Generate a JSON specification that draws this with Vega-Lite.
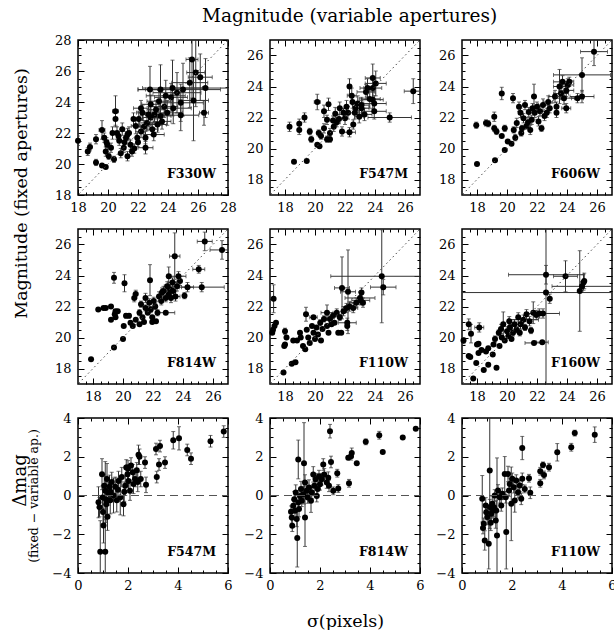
{
"$schema":"https://vega.github.io/schema/vega-lite/v6.json",
"padding":{"left":10,"top":6,"right":0,"bottom":0},
"title":{"text":"Magnitude (variable apertures)","font":"DejaVu Serif","fontSize":18.5,"fontWeight":"normal","color":"black","anchor":"middle","offset":8,"dx":36},
"config":{
 "view":{"stroke":"black","strokeWidth":1.5},
 "axis":{"domain":false,"grid":false,"labelFont":"DejaVu Serif","labelFontSize":13,"labelColor":"black","tickColor":"black","tickWidth":1,"labelFlush":false,"labelOverlap":false,"titleFont":"DejaVu Serif","titleFontWeight":"normal","titleColor":"black","titleFontSize":17.5,"format":"d"},
 "axisX":{"labelPadding":12},
 "axisY":{"labelPadding":13}
},
"datasets":{
"diag":[{"x":16,"y":16},{"x":29,"y":29}],
"zl":[{"x":-1,"y":0},{"x":7,"y":0}],
"pts":[
{"p":"F330W","x":18.0,"y":21.5,"ey":0.3},
{"p":"F330W","x":18.65,"y":20.8,"ey":0.25},
{"p":"F330W","x":18.8,"y":21.1,"ey":0.25},
{"p":"F330W","x":19.2,"y":21.6,"ey":0.3},
{"p":"F330W","x":19.2,"y":20.1,"ey":0.2},
{"p":"F330W","x":19.6,"y":19.9},
{"p":"F330W","x":19.85,"y":19.8},
{"p":"F330W","x":19.6,"y":22.2,"ey":0.6,"ex":0.2},
{"p":"F330W","x":19.75,"y":21.7,"ey":0.3},
{"p":"F330W","x":19.95,"y":21.25,"ey":0.3},
{"p":"F330W","x":19.85,"y":20.8,"ey":0.3},
{"p":"F330W","x":20.05,"y":20.5,"ey":0.2},
{"p":"F330W","x":20.2,"y":21.05,"ey":0.3},
{"p":"F330W","x":20.4,"y":20.3,"ey":0.2},
{"p":"F330W","x":20.5,"y":23.4,"ey":1.0,"ex":0.2},
{"p":"F330W","x":20.5,"y":22.9,"ey":0.4},
{"p":"F330W","x":20.6,"y":22.0,"ey":0.4},
{"p":"F330W","x":20.75,"y":21.5,"ey":0.3},
{"p":"F330W","x":20.85,"y":20.7,"ey":0.3},
{"p":"F330W","x":20.95,"y":22.25,"ey":0.4},
{"p":"F330W","x":21.05,"y":21.05,"ey":0.3},
{"p":"F330W","x":21.2,"y":21.7,"ey":0.4},
{"p":"F330W","x":21.3,"y":20.5,"ey":0.3},
{"p":"F330W","x":21.4,"y":22.0,"ey":0.4},
{"p":"F330W","x":21.5,"y":21.25,"ey":0.3},
{"p":"F330W","x":21.6,"y":20.8,"ey":0.3},
{"p":"F330W","x":21.85,"y":22.45,"ey":0.5,"ex":0.3},
{"p":"F330W","x":21.95,"y":21.7,"ey":0.4},
{"p":"F330W","x":22.05,"y":22.9,"ey":0.5,"ex":0.3},
{"p":"F330W","x":22.2,"y":22.1,"ey":0.4},
{"p":"F330W","x":22.3,"y":23.3,"ey":0.5,"ex":0.4},
{"p":"F330W","x":22.5,"y":21.7,"ey":0.4},
{"p":"F330W","x":22.5,"y":21.05,"ey":0.4,"ex":0.5},
{"p":"F330W","x":22.6,"y":22.65,"ey":0.5,"ex":0.5},
{"p":"F330W","x":22.85,"y":23.85,"ey":0.6,"ex":0.6},
{"p":"F330W","x":22.85,"y":23.0,"ey":0.5,"ex":0.5},
{"p":"F330W","x":22.95,"y":22.25,"ey":0.4,"ex":0.4},
{"p":"F330W","x":23.05,"y":21.9,"ey":0.4,"ex":0.7},
{"p":"F330W","x":23.2,"y":23.5,"ey":0.6,"ex":0.6},
{"p":"F330W","x":23.3,"y":22.55,"ey":0.5,"ex":0.6},
{"p":"F330W","x":23.4,"y":24.05,"ey":0.7,"ex":0.8},
{"p":"F330W","x":23.5,"y":23.1,"ey":0.6,"ex":0.7},
{"p":"F330W","x":23.6,"y":22.75,"ey":0.5,"ex":0.6},
{"p":"F330W","x":23.75,"y":23.7,"ey":0.7,"ex":0.9},
{"p":"F330W","x":23.95,"y":23.3,"ey":0.8,"ex":1.0},
{"p":"F330W","x":24.2,"y":24.3,"ey":0.9,"ex":1.1},
{"p":"F330W","x":22.8,"y":24.8,"ey":1.5,"ex":0.8},
{"p":"F330W","x":23.5,"y":24.8,"ey":1.6,"ex":1.5},
{"p":"F330W","x":24.3,"y":24.9,"ey":1.8,"ex":2.0},
{"p":"F330W","x":25.0,"y":24.8,"ey":1.7,"ex":2.5},
{"p":"F330W","x":26.5,"y":24.9,"ey":1.9,"ex":3.0},
{"p":"F330W","x":24.35,"y":23.6,"ey":1.0,"ex":1.2},
{"p":"F330W","x":24.85,"y":23.95,"ey":1.2,"ex":1.5},
{"p":"F330W","x":24.85,"y":23.15,"ey":1.0,"ex":1.2},
{"p":"F330W","x":25.6,"y":26.75,"ey":2.5,"ex":0.4},
{"p":"F330W","x":25.85,"y":25.9,"ey":2.2,"ex":0.6},
{"p":"F330W","x":26.15,"y":25.6,"ey":1.5,"ex":0.8},
{"p":"F330W","x":26.4,"y":23.3,"ey":0.8,"ex":0.3},
{"p":"F330W","x":25.45,"y":25.25,"ey":1.6,"ex":1.2},
{"p":"F330W","x":25.7,"y":24.1,"ey":2.6,"ex":1.0},
{"p":"F330W","x":24.6,"y":24.6,"ey":1.3,"ex":1.6},
{"p":"F330W","x":23.85,"y":24.4,"ey":1.0,"ex":1.3},
{"p":"F330W","x":22.7,"y":23.2,"ey":0.5},
{"p":"F330W","x":21.7,"y":22.9,"ey":0.4},
{"p":"F330W","x":22.0,"y":21.4,"ey":0.3},
{"p":"F330W","x":21.1,"y":21.4,"ey":0.3},
{"p":"F330W","x":20.7,"y":21.8,"ey":0.3},
{"p":"F330W","x":20.3,"y":22.0,"ey":0.4},
{"p":"F330W","x":19.9,"y":21.4,"ey":0.3},
{"p":"F330W","x":21.3,"y":21.9,"ey":0.4},
{"p":"F330W","x":21.75,"y":21.0,"ey":0.3},
{"p":"F330W","x":22.4,"y":22.4,"ey":0.4,"ex":0.4},
{"p":"F330W","x":23.1,"y":23.2,"ey":0.5,"ex":0.6},
{"p":"F330W","x":22.2,"y":23.6,"ey":0.5,"ex":0.5},
{"p":"F547M","x":18.3,"y":21.4,"ey":0.3},
{"p":"F547M","x":18.6,"y":19.15},
{"p":"F547M","x":18.95,"y":21.6,"ey":0.3},
{"p":"F547M","x":18.95,"y":21.2,"ey":0.3},
{"p":"F547M","x":19.3,"y":22.0,"ey":0.3},
{"p":"F547M","x":19.45,"y":19.2},
{"p":"F547M","x":19.65,"y":21.1,"ey":0.2},
{"p":"F547M","x":19.75,"y":20.6,"ey":0.2},
{"p":"F547M","x":20.15,"y":23.0,"ey":0.5,"ex":0.2},
{"p":"F547M","x":20.15,"y":20.25},
{"p":"F547M","x":20.3,"y":20.15},
{"p":"F547M","x":20.25,"y":21.0,"ey":0.2},
{"p":"F547M","x":20.6,"y":22.4,"ey":0.4},
{"p":"F547M","x":20.9,"y":22.85,"ey":0.4},
{"p":"F547M","x":20.8,"y":21.85,"ey":0.3},
{"p":"F547M","x":20.8,"y":20.6,"ey":0.2},
{"p":"F547M","x":21.0,"y":21.0,"ey":0.3},
{"p":"F547M","x":21.25,"y":21.4,"ey":0.3},
{"p":"F547M","x":21.35,"y":22.25,"ey":0.4},
{"p":"F547M","x":21.45,"y":21.7,"ey":0.3},
{"p":"F547M","x":21.65,"y":22.6,"ey":0.4},
{"p":"F547M","x":21.8,"y":21.1,"ey":0.3},
{"p":"F547M","x":22.0,"y":21.95,"ey":0.4},
{"p":"F547M","x":22.1,"y":22.7,"ey":0.4},
{"p":"F547M","x":22.3,"y":21.05,"ey":0.3,"ex":0.4},
{"p":"F547M","x":22.45,"y":23.4,"ey":0.5,"ex":0.3},
{"p":"F547M","x":22.55,"y":21.55,"ey":0.3},
{"p":"F547M","x":22.65,"y":22.3,"ey":0.4,"ex":0.3},
{"p":"F547M","x":22.85,"y":22.9,"ey":0.5,"ex":0.4},
{"p":"F547M","x":22.95,"y":22.05,"ey":0.4,"ex":0.3},
{"p":"F547M","x":23.1,"y":22.6,"ey":0.5,"ex":0.5},
{"p":"F547M","x":23.4,"y":23.65,"ey":0.5,"ex":0.6},
{"p":"F547M","x":23.65,"y":23.2,"ey":0.6,"ex":0.7},
{"p":"F547M","x":23.85,"y":23.9,"ey":0.7,"ex":0.6},
{"p":"F547M","x":23.85,"y":23.15,"ey":0.6,"ex":0.7},
{"p":"F547M","x":23.95,"y":22.9,"ey":0.5,"ex":0.8},
{"p":"F547M","x":23.95,"y":22.4,"ey":0.5,"ex":0.8},
{"p":"F547M","x":24.05,"y":24.2,"ey":0.8,"ex":0.7},
{"p":"F547M","x":23.85,"y":24.55,"ey":0.9,"ex":0.5},
{"p":"F547M","x":24.98,"y":22.0,"ey":0.3,"ex":1.45},
{"p":"F547M","x":26.55,"y":23.7,"ey":0.8,"ex":0.6},
{"p":"F547M","x":23.1,"y":22.8,"ey":0.5,"ex":0.5},
{"p":"F547M","x":22.3,"y":24.0,"ey":0.5},
{"p":"F547M","x":21.2,"y":21.8,"ey":0.3},
{"p":"F547M","x":21.6,"y":21.9,"ey":0.3},
{"p":"F547M","x":22.2,"y":22.3,"ey":0.4},
{"p":"F547M","x":22.7,"y":22.6,"ey":0.4},
{"p":"F547M","x":21.9,"y":22.3,"ey":0.3},
{"p":"F547M","x":23.3,"y":22.2,"ey":0.4,"ex":0.5},
{"p":"F547M","x":20.4,"y":20.8,"ey":0.2},
{"p":"F547M","x":20.6,"y":21.3,"ey":0.3},
{"p":"F547M","x":21.0,"y":20.6,"ey":0.2},
{"p":"F547M","x":22.5,"y":23.0,"ey":0.4},
{"p":"F547M","x":23.5,"y":23.9,"ey":0.6,"ex":0.5},
{"p":"F606W","x":17.95,"y":21.5,"ey":0.2},
{"p":"F606W","x":18.0,"y":19.0},
{"p":"F606W","x":18.6,"y":21.65,"ey":0.2},
{"p":"F606W","x":18.75,"y":21.6,"ey":0.2},
{"p":"F606W","x":19.15,"y":22.05,"ey":0.3},
{"p":"F606W","x":19.15,"y":21.3,"ey":0.2},
{"p":"F606W","x":19.3,"y":21.1,"ey":0.2},
{"p":"F606W","x":19.2,"y":19.25},
{"p":"F606W","x":19.65,"y":23.55,"ey":0.4},
{"p":"F606W","x":19.65,"y":20.8},
{"p":"F606W","x":19.85,"y":21.3,"ey":0.2},
{"p":"F606W","x":19.85,"y":19.9},
{"p":"F606W","x":20.05,"y":20.45},
{"p":"F606W","x":20.3,"y":20.3},
{"p":"F606W","x":20.4,"y":23.25,"ey":0.3},
{"p":"F606W","x":20.45,"y":21.2,"ey":0.2},
{"p":"F606W","x":20.55,"y":20.7,"ey":0.2},
{"p":"F606W","x":20.65,"y":21.65,"ey":0.3},
{"p":"F606W","x":20.8,"y":22.7,"ey":0.3},
{"p":"F606W","x":20.9,"y":22.3,"ey":0.3},
{"p":"F606W","x":20.95,"y":21.0,"ey":0.2},
{"p":"F606W","x":21.1,"y":21.95,"ey":0.3},
{"p":"F606W","x":21.2,"y":22.8,"ey":0.3},
{"p":"F606W","x":21.3,"y":21.45,"ey":0.2},
{"p":"F606W","x":21.45,"y":22.35,"ey":0.3},
{"p":"F606W","x":21.55,"y":21.2,"ey":0.3},
{"p":"F606W","x":21.65,"y":21.85,"ey":0.3},
{"p":"F606W","x":21.8,"y":23.35,"ey":0.8},
{"p":"F606W","x":21.85,"y":22.3,"ey":0.3},
{"p":"F606W","x":22.0,"y":22.7,"ey":0.3},
{"p":"F606W","x":22.1,"y":21.75,"ey":0.3},
{"p":"F606W","x":22.2,"y":22.4,"ey":0.3},
{"p":"F606W","x":22.4,"y":22.8,"ey":0.4,"ex":0.3},
{"p":"F606W","x":22.65,"y":22.3,"ey":0.3},
{"p":"F606W","x":22.75,"y":23.0,"ey":0.4,"ex":0.3},
{"p":"F606W","x":22.85,"y":22.6,"ey":0.3},
{"p":"F606W","x":23.2,"y":23.35,"ey":0.4,"ex":0.4},
{"p":"F606W","x":23.3,"y":22.7,"ey":0.3},
{"p":"F606W","x":23.5,"y":24.0,"ey":1.1,"ex":0.4},
{"p":"F606W","x":23.6,"y":23.55,"ey":0.4,"ex":0.5},
{"p":"F606W","x":23.7,"y":24.3,"ey":0.4,"ex":0.6},
{"p":"F606W","x":23.8,"y":23.25,"ey":0.4,"ex":0.7},
{"p":"F606W","x":23.95,"y":23.75,"ey":0.4,"ex":0.5},
{"p":"F606W","x":24.05,"y":24.1,"ey":0.4,"ex":0.4},
{"p":"F606W","x":23.3,"y":22.3,"ey":0.3},
{"p":"F606W","x":23.95,"y":22.6,"ey":0.3,"ex":0.3},
{"p":"F606W","x":25.0,"y":24.75,"ey":1.1,"ex":1.9},
{"p":"F606W","x":25.0,"y":23.35,"ey":0.4,"ex":0.8},
{"p":"F606W","x":24.7,"y":23.25,"ey":0.3,"ex":0.4},
{"p":"F606W","x":25.8,"y":26.25,"ey":0.9,"ex":0.9},
{"p":"F606W","x":24.15,"y":24.3,"ey":0.3,"ex":0.3},
{"p":"F606W","x":22.5,"y":22.1,"ey":0.3},
{"p":"F606W","x":21.7,"y":22.6,"ey":0.3},
{"p":"F606W","x":21.4,"y":21.7,"ey":0.3},
{"p":"F606W","x":22.3,"y":21.3,"ey":0.2},
{"p":"F606W","x":21.0,"y":21.3,"ey":0.2},
{"p":"F814W","x":17.87,"y":18.6},
{"p":"F814W","x":18.35,"y":21.8},
{"p":"F814W","x":18.7,"y":21.9},
{"p":"F814W","x":18.85,"y":21.9},
{"p":"F814W","x":19.2,"y":22.0},
{"p":"F814W","x":19.2,"y":21.15},
{"p":"F814W","x":19.4,"y":23.85,"ey":0.35},
{"p":"F814W","x":19.4,"y":19.35},
{"p":"F814W","x":19.5,"y":21.7},
{"p":"F814W","x":19.45,"y":21.5},
{"p":"F814W","x":19.65,"y":21.7},
{"p":"F814W","x":19.5,"y":21.3},
{"p":"F814W","x":20.1,"y":23.5,"ey":0.55},
{"p":"F814W","x":20.0,"y":19.9},
{"p":"F814W","x":20.05,"y":20.75},
{"p":"F814W","x":20.2,"y":21.4,"ey":0.15},
{"p":"F814W","x":20.4,"y":21.4,"ey":0.15},
{"p":"F814W","x":20.5,"y":20.95},
{"p":"F814W","x":20.65,"y":20.75},
{"p":"F814W","x":20.75,"y":22.55,"ey":0.25},
{"p":"F814W","x":20.85,"y":22.8,"ey":0.25},
{"p":"F814W","x":20.85,"y":21.15},
{"p":"F814W","x":21.1,"y":20.85},
{"p":"F814W","x":21.1,"y":21.6,"ey":0.2},
{"p":"F814W","x":21.2,"y":22.15,"ey":0.2},
{"p":"F814W","x":21.3,"y":21.3},
{"p":"F814W","x":21.5,"y":22.55,"ey":0.3},
{"p":"F814W","x":21.5,"y":21.9,"ey":0.2},
{"p":"F814W","x":21.65,"y":21.6},
{"p":"F814W","x":21.75,"y":22.25,"ey":0.25},
{"p":"F814W","x":21.8,"y":23.7,"ey":1.0},
{"p":"F814W","x":21.85,"y":21.8,"ey":0.2},
{"p":"F814W","x":21.95,"y":21.3},
{"p":"F814W","x":21.95,"y":21.0},
{"p":"F814W","x":22.05,"y":22.35,"ey":0.25},
{"p":"F814W","x":22.15,"y":22.0,"ey":0.2},
{"p":"F814W","x":22.3,"y":21.6,"ey":0.2},
{"p":"F814W","x":22.4,"y":22.65,"ey":0.3},
{"p":"F814W","x":22.55,"y":22.35,"ey":0.25},
{"p":"F814W","x":22.7,"y":23.0,"ey":0.3,"ex":0.2},
{"p":"F814W","x":22.85,"y":22.55,"ey":0.25},
{"p":"F814W","x":22.85,"y":21.6,"ex":0.6},
{"p":"F814W","x":22.95,"y":23.3,"ey":0.3,"ex":0.2},
{"p":"F814W","x":23.05,"y":22.8,"ey":0.3},
{"p":"F814W","x":23.15,"y":23.1,"ey":0.3},
{"p":"F814W","x":23.2,"y":22.55,"ey":0.3},
{"p":"F814W","x":23.3,"y":23.55,"ey":0.3,"ex":0.3},
{"p":"F814W","x":23.35,"y":23.0,"ey":0.3},
{"p":"F814W","x":23.45,"y":25.25,"ey":1.5,"ex":0.35},
{"p":"F814W","x":23.05,"y":23.95,"ey":0.6},
{"p":"F814W","x":23.6,"y":23.3,"ey":0.3},
{"p":"F814W","x":23.7,"y":23.95,"ey":0.3,"ex":0.5},
{"p":"F814W","x":23.8,"y":23.65,"ey":0.3},
{"p":"F814W","x":23.5,"y":22.65,"ey":0.3,"ex":0.3},
{"p":"F814W","x":24.1,"y":22.7,"ey":0.2},
{"p":"F814W","x":24.3,"y":23.25,"ey":0.3,"ex":0.4},
{"p":"F814W","x":25.05,"y":24.4,"ey":0.25,"ex":0.4},
{"p":"F814W","x":25.25,"y":23.25,"ey":0.3,"ex":1.5},
{"p":"F814W","x":25.45,"y":26.2,"ey":0.6,"ex":0.5},
{"p":"F814W","x":26.6,"y":25.65,"ey":0.6,"ex":0.8},
{"p":"F814W","x":22.2,"y":21.05},
{"p":"F814W","x":21.4,"y":21.0},
{"p":"F814W","x":22.6,"y":22.9,"ey":0.3},
{"p":"F110W","x":17.24,"y":22.5,"ey":0.9},
{"p":"F110W","x":17.2,"y":20.5},
{"p":"F110W","x":17.3,"y":20.75},
{"p":"F110W","x":17.4,"y":20.95},
{"p":"F110W","x":17.15,"y":20.3},
{"p":"F110W","x":17.9,"y":17.75},
{"p":"F110W","x":18.0,"y":20.4,"ey":0.2},
{"p":"F110W","x":18.1,"y":20.0},
{"p":"F110W","x":18.0,"y":19.55},
{"p":"F110W","x":17.95,"y":19.45},
{"p":"F110W","x":18.45,"y":18.3},
{"p":"F110W","x":18.7,"y":18.4},
{"p":"F110W","x":18.55,"y":19.8},
{"p":"F110W","x":18.8,"y":19.8},
{"p":"F110W","x":19.05,"y":20.0},
{"p":"F110W","x":19.0,"y":20.3},
{"p":"F110W","x":19.2,"y":19.45},
{"p":"F110W","x":19.35,"y":19.25},
{"p":"F110W","x":19.4,"y":21.5,"ey":0.45},
{"p":"F110W","x":19.45,"y":20.5},
{"p":"F110W","x":19.55,"y":20.0},
{"p":"F110W","x":19.65,"y":19.65},
{"p":"F110W","x":19.8,"y":20.75},
{"p":"F110W","x":19.9,"y":21.3,"ex":0.25},
{"p":"F110W","x":19.9,"y":20.3},
{"p":"F110W","x":20.0,"y":19.9},
{"p":"F110W","x":20.1,"y":20.65},
{"p":"F110W","x":20.2,"y":20.2},
{"p":"F110W","x":20.35,"y":20.95,"ey":0.2},
{"p":"F110W","x":20.4,"y":19.8},
{"p":"F110W","x":20.5,"y":20.55},
{"p":"F110W","x":20.6,"y":21.2,"ey":0.2},
{"p":"F110W","x":20.8,"y":21.6,"ey":0.5,"ex":0.4},
{"p":"F110W","x":20.8,"y":20.75},
{"p":"F110W","x":20.9,"y":20.3},
{"p":"F110W","x":21.0,"y":21.2,"ey":0.2},
{"p":"F110W","x":21.1,"y":20.85},
{"p":"F110W","x":21.2,"y":21.4,"ey":0.2},
{"p":"F110W","x":21.3,"y":20.95},
{"p":"F110W","x":21.45,"y":21.6,"ey":0.25},
{"p":"F110W","x":21.55,"y":20.3},
{"p":"F110W","x":21.75,"y":20.3},
{"p":"F110W","x":21.65,"y":21.3,"ey":0.2},
{"p":"F110W","x":21.9,"y":21.7,"ey":0.3},
{"p":"F110W","x":21.8,"y":23.2,"ey":2.0,"ex":0.5},
{"p":"F110W","x":22.1,"y":21.9,"ey":0.3},
{"p":"F110W","x":22.2,"y":22.95,"ey":2.7,"ex":0.5},
{"p":"F110W","x":22.15,"y":20.95,"ey":0.3,"ex":0.6},
{"p":"F110W","x":22.15,"y":20.75,"ey":0.3},
{"p":"F110W","x":22.3,"y":22.0,"ey":0.3},
{"p":"F110W","x":22.55,"y":21.9,"ey":0.3,"ex":0.3},
{"p":"F110W","x":22.75,"y":22.25,"ey":0.3,"ex":0.4},
{"p":"F110W","x":23.0,"y":22.55,"ey":0.4,"ex":1.0},
{"p":"F110W","x":23.05,"y":22.4,"ey":0.3,"ex":0.6},
{"p":"F110W","x":23.2,"y":22.25,"ey":0.3},
{"p":"F110W","x":23.1,"y":22.9,"ey":0.3},
{"p":"F110W","x":24.45,"y":23.95,"ey":3.0,"ex":3.4},
{"p":"F110W","x":24.55,"y":23.25,"ey":0.5,"ex":0.85},
{"p":"F160W","x":17.1,"y":19.8,"ey":0.2},
{"p":"F160W","x":17.45,"y":20.85,"ey":0.35},
{"p":"F160W","x":17.6,"y":20.25,"ey":0.6},
{"p":"F160W","x":17.45,"y":18.8},
{"p":"F160W","x":17.55,"y":18.75},
{"p":"F160W","x":17.75,"y":17.35},
{"p":"F160W","x":18.0,"y":19.55},
{"p":"F160W","x":18.1,"y":19.6},
{"p":"F160W","x":17.95,"y":18.35},
{"p":"F160W","x":18.15,"y":20.65,"ey":0.3,"ex":0.3},
{"p":"F160W","x":18.1,"y":19.0},
{"p":"F160W","x":18.3,"y":19.2},
{"p":"F160W","x":18.45,"y":17.9},
{"p":"F160W","x":18.6,"y":19.1},
{"p":"F160W","x":18.75,"y":19.3},
{"p":"F160W","x":18.75,"y":18.25},
{"p":"F160W","x":19.05,"y":18.9},
{"p":"F160W","x":19.1,"y":19.55},
{"p":"F160W","x":19.2,"y":19.9,"ey":0.2},
{"p":"F160W","x":19.3,"y":18.05},
{"p":"F160W","x":19.45,"y":20.3,"ey":0.2},
{"p":"F160W","x":19.5,"y":19.45},
{"p":"F160W","x":19.6,"y":20.55,"ey":0.3},
{"p":"F160W","x":19.65,"y":20.0},
{"p":"F160W","x":19.75,"y":20.85,"ey":0.8},
{"p":"F160W","x":19.85,"y":19.8},
{"p":"F160W","x":20.0,"y":20.4,"ey":0.3},
{"p":"F160W","x":20.1,"y":20.1},
{"p":"F160W","x":20.15,"y":21.05,"ey":0.3},
{"p":"F160W","x":20.2,"y":20.65,"ey":0.2},
{"p":"F160W","x":20.3,"y":19.9},
{"p":"F160W","x":20.4,"y":20.3,"ey":0.2},
{"p":"F160W","x":20.5,"y":20.85,"ey":0.3,"ex":0.3},
{"p":"F160W","x":20.65,"y":20.5,"ey":0.2},
{"p":"F160W","x":20.75,"y":21.3,"ey":0.3},
{"p":"F160W","x":20.85,"y":20.3,"ey":0.2},
{"p":"F160W","x":20.9,"y":20.85,"ey":0.3},
{"p":"F160W","x":21.1,"y":21.15,"ey":0.3,"ex":1.0},
{"p":"F160W","x":21.2,"y":20.65,"ey":0.2},
{"p":"F160W","x":21.3,"y":21.5,"ey":0.3},
{"p":"F160W","x":21.5,"y":21.05,"ey":0.3},
{"p":"F160W","x":21.6,"y":20.45,"ey":0.2},
{"p":"F160W","x":21.75,"y":21.6,"ey":0.7},
{"p":"F160W","x":21.8,"y":19.65,"ex":0.6},
{"p":"F160W","x":21.95,"y":21.45,"ey":0.3},
{"p":"F160W","x":22.15,"y":21.55,"ey":0.3},
{"p":"F160W","x":22.35,"y":19.7,"ex":0.4},
{"p":"F160W","x":22.4,"y":21.55,"ey":0.3,"ex":1.1},
{"p":"F160W","x":22.6,"y":22.9,"ey":6,"ex":6},
{"p":"F160W","x":22.6,"y":24.05,"ey":0.6,"ex":2.5},
{"p":"F160W","x":22.85,"y":22.5,"ey":0.3},
{"p":"F160W","x":23.9,"y":23.95,"ey":1.0,"ex":0.8},
{"p":"F160W","x":24.85,"y":23.0,"ey":2.6},
{"p":"F160W","x":25.0,"y":23.3,"ey":0.3,"ex":2.0},
{"p":"F160W","x":25.1,"y":23.55,"ey":0.5},
{"p":"F160W","x":25.15,"y":23.65,"ey":0.5},
{"p":"dF547M","x":0.82,"y":-0.35,"ey":0.8},
{"p":"dF547M","x":0.86,"y":-0.6,"ey":0.5},
{"p":"dF547M","x":0.89,"y":-2.9,"ey":1.6},
{"p":"dF547M","x":0.96,"y":1.1,"ey":0.8},
{"p":"dF547M","x":0.98,"y":-0.1,"ey":0.6},
{"p":"dF547M","x":1.0,"y":-0.85,"ey":0.7},
{"p":"dF547M","x":1.02,"y":-1.55,"ey":0.9},
{"p":"dF547M","x":1.09,"y":-2.9,"ey":1.8},
{"p":"dF547M","x":1.09,"y":0.25,"ey":1.5},
{"p":"dF547M","x":1.13,"y":-0.45,"ey":0.7},
{"p":"dF547M","x":1.16,"y":0.85,"ey":0.8},
{"p":"dF547M","x":1.18,"y":-1.1,"ey":0.7},
{"p":"dF547M","x":1.22,"y":0.1,"ey":0.6},
{"p":"dF547M","x":1.26,"y":0.45,"ey":0.6},
{"p":"dF547M","x":1.29,"y":-0.25,"ey":0.7},
{"p":"dF547M","x":1.35,"y":0.7,"ey":0.5},
{"p":"dF547M","x":1.42,"y":0.0,"ey":0.9},
{"p":"dF547M","x":1.49,"y":0.45,"ey":0.5},
{"p":"dF547M","x":1.55,"y":-0.25,"ey":0.6},
{"p":"dF547M","x":1.62,"y":0.75,"ey":0.5},
{"p":"dF547M","x":1.69,"y":-0.1,"ey":0.9},
{"p":"dF547M","x":1.75,"y":0.95,"ey":0.5},
{"p":"dF547M","x":1.82,"y":-0.45,"ey":0.6},
{"p":"dF547M","x":1.89,"y":0.5,"ey":0.5},
{"p":"dF547M","x":1.93,"y":1.45,"ey":0.4},
{"p":"dF547M","x":1.98,"y":1.1,"ey":0.5},
{"p":"dF547M","x":2.02,"y":0.75,"ey":0.6},
{"p":"dF547M","x":2.08,"y":0.25,"ey":0.5},
{"p":"dF547M","x":2.12,"y":1.55,"ey":0.4},
{"p":"dF547M","x":2.19,"y":1.2,"ey":0.4},
{"p":"dF547M","x":2.22,"y":0.6,"ey":0.5},
{"p":"dF547M","x":2.28,"y":0.85,"ey":0.4},
{"p":"dF547M","x":2.35,"y":1.3,"ey":0.4},
{"p":"dF547M","x":2.39,"y":0.7,"ey":0.5},
{"p":"dF547M","x":2.42,"y":2.1,"ey":0.5},
{"p":"dF547M","x":2.46,"y":2.0,"ey":0.4},
{"p":"dF547M","x":2.51,"y":0.85,"ey":0.4},
{"p":"dF547M","x":2.68,"y":1.7,"ey":0.3},
{"p":"dF547M","x":2.72,"y":0.55,"ey":0.4},
{"p":"dF547M","x":3.12,"y":2.4,"ey":0.3},
{"p":"dF547M","x":3.15,"y":0.95,"ey":0.3},
{"p":"dF547M","x":3.24,"y":1.6,"ey":0.3},
{"p":"dF547M","x":3.28,"y":2.55,"ey":0.3},
{"p":"dF547M","x":3.48,"y":1.7,"ey":0.3},
{"p":"dF547M","x":3.81,"y":2.85,"ey":0.45},
{"p":"dF547M","x":4.04,"y":2.95,"ey":0.6},
{"p":"dF547M","x":4.37,"y":2.35,"ey":0.3},
{"p":"dF547M","x":4.52,"y":1.9,"ey":0.3},
{"p":"dF547M","x":5.3,"y":2.8,"ey":0.3},
{"p":"dF547M","x":5.83,"y":3.3,"ey":0.3},
{"p":"dF547M","x":1.05,"y":0.5,"ey":0.6},
{"p":"dF547M","x":1.12,"y":-0.2,"ey":1.2},
{"p":"dF547M","x":1.3,"y":0.2,"ey":0.5},
{"p":"dF547M","x":1.6,"y":0.3,"ey":0.6},
{"p":"dF547M","x":1.85,"y":0.2,"ey":0.5},
{"p":"dF547M","x":2.0,"y":1.4,"ey":0.4},
{"p":"dF814W","x":0.84,"y":-0.84,"ey":0.3},
{"p":"dF814W","x":0.87,"y":-1.13,"ey":0.3},
{"p":"dF814W","x":0.89,"y":-1.56,"ey":0.3},
{"p":"dF814W","x":0.93,"y":-0.53,"ey":0.3},
{"p":"dF814W","x":0.97,"y":-0.19,"ey":0.4},
{"p":"dF814W","x":1.0,"y":-0.79,"ey":0.4},
{"p":"dF814W","x":1.03,"y":0.15,"ey":0.4},
{"p":"dF814W","x":1.07,"y":-1.21,"ey":0.4},
{"p":"dF814W","x":1.09,"y":-2.19,"ey":1.5},
{"p":"dF814W","x":1.13,"y":1.86,"ey":1.0},
{"p":"dF814W","x":1.13,"y":-0.36,"ey":0.4},
{"p":"dF814W","x":1.16,"y":-0.7,"ey":0.4},
{"p":"dF814W","x":1.2,"y":-0.03,"ey":0.3},
{"p":"dF814W","x":1.24,"y":0.33,"ey":0.4},
{"p":"dF814W","x":1.27,"y":-0.27,"ey":0.3},
{"p":"dF814W","x":1.33,"y":0.07,"ey":0.4},
{"p":"dF814W","x":1.36,"y":1.66,"ey":2.1},
{"p":"dF814W","x":1.4,"y":-1.13,"ey":1.5},
{"p":"dF814W","x":1.4,"y":0.67,"ey":0.4},
{"p":"dF814W","x":1.47,"y":0.24,"ey":0.4},
{"p":"dF814W","x":1.51,"y":-0.1,"ey":0.3},
{"p":"dF814W","x":1.56,"y":0.41,"ey":0.4},
{"p":"dF814W","x":1.64,"y":-0.27,"ey":0.6},
{"p":"dF814W","x":1.67,"y":0.15,"ey":0.3},
{"p":"dF814W","x":1.73,"y":1.09,"ey":0.4},
{"p":"dF814W","x":1.77,"y":0.5,"ey":0.4},
{"p":"dF814W","x":1.83,"y":0.84,"ey":0.3},
{"p":"dF814W","x":1.87,"y":-0.03,"ey":0.3},
{"p":"dF814W","x":1.91,"y":0.33,"ey":0.3},
{"p":"dF814W","x":1.96,"y":1.0,"ey":0.3},
{"p":"dF814W","x":2.0,"y":0.58,"ey":0.3},
{"p":"dF814W","x":2.07,"y":0.84,"ey":0.3},
{"p":"dF814W","x":2.13,"y":1.6,"ey":0.3},
{"p":"dF814W","x":2.17,"y":1.09,"ey":0.3},
{"p":"dF814W","x":2.27,"y":0.67,"ey":0.3},
{"p":"dF814W","x":2.33,"y":0.92,"ey":0.3},
{"p":"dF814W","x":2.36,"y":0.5,"ey":0.3},
{"p":"dF814W","x":2.4,"y":3.32,"ey":0.35},
{"p":"dF814W","x":2.44,"y":1.73,"ey":0.3},
{"p":"dF814W","x":2.53,"y":0.24,"ey":0.2},
{"p":"dF814W","x":2.69,"y":1.15,"ey":0.2},
{"p":"dF814W","x":2.73,"y":0.36,"ey":0.2},
{"p":"dF814W","x":3.13,"y":1.95,"ey":0.1},
{"p":"dF814W","x":3.16,"y":0.63,"ey":0.2},
{"p":"dF814W","x":3.24,"y":2.03,"ey":0.2},
{"p":"dF814W","x":3.27,"y":2.2,"ey":0.25},
{"p":"dF814W","x":3.47,"y":1.66},
{"p":"dF814W","x":3.83,"y":2.77,"ey":0.15},
{"p":"dF814W","x":4.37,"y":3.11,"ey":0.2},
{"p":"dF814W","x":4.51,"y":2.24},
{"p":"dF814W","x":5.31,"y":3.0},
{"p":"dF814W","x":5.83,"y":3.45},
{"p":"dF110W","x":0.81,"y":-0.17,"ey":1.2},
{"p":"dF110W","x":0.84,"y":-1.68,"ey":0.3},
{"p":"dF110W","x":0.87,"y":-1.46,"ey":0.3},
{"p":"dF110W","x":0.91,"y":-2.32,"ey":0.5},
{"p":"dF110W","x":0.95,"y":-0.51,"ey":0.4},
{"p":"dF110W","x":0.97,"y":-0.86,"ey":0.4},
{"p":"dF110W","x":1.01,"y":-1.11,"ey":0.4},
{"p":"dF110W","x":1.07,"y":-2.49,"ey":1.3},
{"p":"dF110W","x":1.11,"y":1.29,"ey":3.0},
{"p":"dF110W","x":1.11,"y":-0.6,"ey":0.4},
{"p":"dF110W","x":1.15,"y":-1.41,"ey":0.4},
{"p":"dF110W","x":1.17,"y":-0.94,"ey":0.4},
{"p":"dF110W","x":1.21,"y":-0.43,"ey":0.4},
{"p":"dF110W","x":1.24,"y":-0.77,"ey":0.4},
{"p":"dF110W","x":1.28,"y":-0.6,"ey":0.5},
{"p":"dF110W","x":1.31,"y":0.0,"ey":0.3},
{"p":"dF110W","x":1.35,"y":-1.29,"ey":0.4},
{"p":"dF110W","x":1.37,"y":-0.77,"ey":0.5},
{"p":"dF110W","x":1.4,"y":-2.06,"ey":4.0},
{"p":"dF110W","x":1.44,"y":0.26,"ey":0.3},
{"p":"dF110W","x":1.51,"y":-0.09,"ey":0.3},
{"p":"dF110W","x":1.57,"y":-0.51,"ey":0.3},
{"p":"dF110W","x":1.61,"y":0.09,"ey":0.3},
{"p":"dF110W","x":1.71,"y":1.11,"ey":0.9},
{"p":"dF110W","x":1.75,"y":-0.09,"ey":0.3},
{"p":"dF110W","x":1.77,"y":-1.89,"ey":1.9},
{"p":"dF110W","x":1.84,"y":1.11,"ey":0.4},
{"p":"dF110W","x":1.88,"y":0.26,"ey":0.3},
{"p":"dF110W","x":1.91,"y":0.6,"ey":0.3},
{"p":"dF110W","x":1.97,"y":-0.43,"ey":1.9},
{"p":"dF110W","x":2.01,"y":0.86,"ey":0.3},
{"p":"dF110W","x":2.07,"y":0.43,"ey":0.3},
{"p":"dF110W","x":2.11,"y":-0.26,"ey":0.6},
{"p":"dF110W","x":2.17,"y":0.77,"ey":0.3},
{"p":"dF110W","x":2.24,"y":0.17,"ey":0.3},
{"p":"dF110W","x":2.31,"y":0.51,"ey":0.3},
{"p":"dF110W","x":2.37,"y":-0.17,"ey":0.3},
{"p":"dF110W","x":2.41,"y":0.86,"ey":0.3},
{"p":"dF110W","x":2.41,"y":2.45,"ey":0.6},
{"p":"dF110W","x":2.51,"y":0.34,"ey":0.2},
{"p":"dF110W","x":2.68,"y":0.89,"ey":0.2},
{"p":"dF110W","x":2.73,"y":0.14,"ey":0.3},
{"p":"dF110W","x":3.13,"y":0.63,"ey":0.2},
{"p":"dF110W","x":3.13,"y":1.25,"ey":0.2},
{"p":"dF110W","x":3.24,"y":1.58,"ey":0.15},
{"p":"dF110W","x":3.28,"y":1.06,"ey":0.2},
{"p":"dF110W","x":3.48,"y":1.46,"ey":0.2},
{"p":"dF110W","x":3.81,"y":2.23,"ey":0.45},
{"p":"dF110W","x":4.37,"y":2.49,"ey":0.2},
{"p":"dF110W","x":4.51,"y":3.22,"ey":0.15},
{"p":"dF110W","x":5.31,"y":3.14,"ey":0.4}
]},
"data":{"name":"pts"},
"columns":3,
"spacing":{"row":34,"column":42},
"bounds":"flush",
"concat":[
 {"width":150,"height":155,"transform":[{"filter":"datum.p === 'F330W'"}],
  "layer":[
   {"transform":[{"filter":"datum.ex > 0"}],"mark":{"type":"errorbar","ticks":true,"size":4,"thickness":1,"color":"#333","clip":true},
    "encoding":{"x":{"field":"x","type":"quantitative","scale":{"domain":[18,28],"nice":false,"zero":false},"axis":{"orient":"bottom","values":[18,20,22,24,26,28],"tickSize":-6,"title":null}},"xError":{"field":"ex"},
     "y":{"field":"y","type":"quantitative","scale":{"domain":[18,28],"nice":false,"zero":false},"axis":{"orient":"left","values":[18,20,22,24,26,28],"tickSize":-6,"title":"Magnitude (fixed apertures)","titleY":153,"titlePadding":24}}}},
   {"transform":[{"filter":"datum.ey > 0"}],"mark":{"type":"errorbar","ticks":true,"size":4,"thickness":1,"color":"#333","clip":true},
    "encoding":{"x":{"field":"x","type":"quantitative","scale":{"domain":[18,28],"nice":false,"zero":false},"axis":{"orient":"top","values":[18,20,22,24,26,28],"tickSize":-6,"labels":false,"title":null}},
     "y":{"field":"y","type":"quantitative","scale":{"domain":[18,28],"nice":false,"zero":false},"axis":{"orient":"right","values":[18,20,22,24,26,28],"tickSize":-6,"labels":false,"title":null}},"yError":{"field":"ey"}}},
   {"mark":{"type":"circle","size":36,"color":"black","opacity":1},
    "encoding":{"x":{"field":"x","type":"quantitative","scale":{"domain":[18,28],"nice":false,"zero":false},"axis":{"orient":"bottom","values":[18.5,19,19.5,20.5,21,21.5,22.5,23,23.5,24.5,25,25.5,26.5,27,27.5],"tickSize":-3,"labels":false,"title":null}},
     "y":{"field":"y","type":"quantitative","scale":{"domain":[18,28],"nice":false,"zero":false},"axis":{"orient":"left","values":[18.5,19,19.5,20.5,21,21.5,22.5,23,23.5,24.5,25,25.5,26.5,27,27.5],"tickSize":-3,"labels":false,"title":null}}}},
   {"data":{"name":"diag"},"mark":{"type":"line","strokeDash":[1.5,3],"color":"#444","strokeWidth":1,"clip":true},
    "encoding":{"x":{"field":"x","type":"quantitative","scale":{"domain":[18,28],"nice":false,"zero":false},"axis":{"orient":"top","values":[18.5,19,19.5,20.5,21,21.5,22.5,23,23.5,24.5,25,25.5,26.5,27,27.5],"tickSize":-3,"labels":false,"title":null}},
     "y":{"field":"y","type":"quantitative","scale":{"domain":[18,28],"nice":false,"zero":false},"axis":{"orient":"right","values":[18.5,19,19.5,20.5,21,21.5,22.5,23,23.5,24.5,25,25.5,26.5,27,27.5],"tickSize":-3,"labels":false,"title":null}}}},
   {"data":{"values":[{"label":"F330W"}]},"mark":{"type":"text","align":"right","baseline":"alphabetic","font":"DejaVu Serif","fontWeight":"bold","fontSize":12.5,"color":"black"},
    "encoding":{"x":{"datum":27.2,"type":"quantitative","scale":{"domain":[18,28],"nice":false,"zero":false},"axis":null},"y":{"datum":19.1,"type":"quantitative","scale":{"domain":[18,28],"nice":false,"zero":false},"axis":null},"text":{"field":"label"}}}
  ],
  "resolve":{"axis":{"x":"independent","y":"independent"}}},
 {"width":150,"height":155,"transform":[{"filter":"datum.p === 'F547M'"}],
  "layer":[
   {"transform":[{"filter":"datum.ex > 0"}],"mark":{"type":"errorbar","ticks":true,"size":4,"thickness":1,"color":"#333","clip":true},
    "encoding":{"x":{"field":"x","type":"quantitative","scale":{"domain":[17,27],"nice":false,"zero":false},"axis":{"orient":"bottom","values":[18,20,22,24,26],"tickSize":-6,"title":null}},"xError":{"field":"ex"},
     "y":{"field":"y","type":"quantitative","scale":{"domain":[17,27],"nice":false,"zero":false},"axis":{"orient":"left","values":[18,20,22,24,26],"tickSize":-6,"title":null}}}},
   {"transform":[{"filter":"datum.ey > 0"}],"mark":{"type":"errorbar","ticks":true,"size":4,"thickness":1,"color":"#333","clip":true},
    "encoding":{"x":{"field":"x","type":"quantitative","scale":{"domain":[17,27],"nice":false,"zero":false},"axis":{"orient":"top","values":[18,20,22,24,26],"tickSize":-6,"labels":false,"title":null}},
     "y":{"field":"y","type":"quantitative","scale":{"domain":[17,27],"nice":false,"zero":false},"axis":{"orient":"right","values":[18,20,22,24,26],"tickSize":-6,"labels":false,"title":null}},"yError":{"field":"ey"}}},
   {"mark":{"type":"circle","size":36,"color":"black","opacity":1},
    "encoding":{"x":{"field":"x","type":"quantitative","scale":{"domain":[17,27],"nice":false,"zero":false},"axis":{"orient":"bottom","values":[17.5,18.5,19,19.5,20.5,21,21.5,22.5,23,23.5,24.5,25,25.5,26.5],"tickSize":-3,"labels":false,"title":null}},
     "y":{"field":"y","type":"quantitative","scale":{"domain":[17,27],"nice":false,"zero":false},"axis":{"orient":"left","values":[17.5,18.5,19,19.5,20.5,21,21.5,22.5,23,23.5,24.5,25,25.5,26.5],"tickSize":-3,"labels":false,"title":null}}}},
   {"data":{"name":"diag"},"mark":{"type":"line","strokeDash":[1.5,3],"color":"#444","strokeWidth":1,"clip":true},
    "encoding":{"x":{"field":"x","type":"quantitative","scale":{"domain":[17,27],"nice":false,"zero":false},"axis":{"orient":"top","values":[17.5,18.5,19,19.5,20.5,21,21.5,22.5,23,23.5,24.5,25,25.5,26.5],"tickSize":-3,"labels":false,"title":null}},
     "y":{"field":"y","type":"quantitative","scale":{"domain":[17,27],"nice":false,"zero":false},"axis":{"orient":"right","values":[17.5,18.5,19,19.5,20.5,21,21.5,22.5,23,23.5,24.5,25,25.5,26.5],"tickSize":-3,"labels":false,"title":null}}}},
   {"data":{"values":[{"label":"F547M"}]},"mark":{"type":"text","align":"right","baseline":"alphabetic","font":"DejaVu Serif","fontWeight":"bold","fontSize":12.5,"color":"black"},
    "encoding":{"x":{"datum":26.2,"type":"quantitative","scale":{"domain":[17,27],"nice":false,"zero":false},"axis":null},"y":{"datum":18.1,"type":"quantitative","scale":{"domain":[17,27],"nice":false,"zero":false},"axis":null},"text":{"field":"label"}}}
  ],
  "resolve":{"axis":{"x":"independent","y":"independent"}}},
 {"width":150,"height":155,"transform":[{"filter":"datum.p === 'F606W'"}],
  "layer":[
   {"transform":[{"filter":"datum.ex > 0"}],"mark":{"type":"errorbar","ticks":true,"size":4,"thickness":1,"color":"#333","clip":true},
    "encoding":{"x":{"field":"x","type":"quantitative","scale":{"domain":[17,27],"nice":false,"zero":false},"axis":{"orient":"bottom","values":[18,20,22,24,26],"tickSize":-6,"title":null}},"xError":{"field":"ex"},
     "y":{"field":"y","type":"quantitative","scale":{"domain":[17,27],"nice":false,"zero":false},"axis":{"orient":"left","values":[18,20,22,24,26],"tickSize":-6,"title":null}}}},
   {"transform":[{"filter":"datum.ey > 0"}],"mark":{"type":"errorbar","ticks":true,"size":4,"thickness":1,"color":"#333","clip":true},
    "encoding":{"x":{"field":"x","type":"quantitative","scale":{"domain":[17,27],"nice":false,"zero":false},"axis":{"orient":"top","values":[18,20,22,24,26],"tickSize":-6,"labels":false,"title":null}},
     "y":{"field":"y","type":"quantitative","scale":{"domain":[17,27],"nice":false,"zero":false},"axis":{"orient":"right","values":[18,20,22,24,26],"tickSize":-6,"labels":false,"title":null}},"yError":{"field":"ey"}}},
   {"mark":{"type":"circle","size":36,"color":"black","opacity":1},
    "encoding":{"x":{"field":"x","type":"quantitative","scale":{"domain":[17,27],"nice":false,"zero":false},"axis":{"orient":"bottom","values":[17.5,18.5,19,19.5,20.5,21,21.5,22.5,23,23.5,24.5,25,25.5,26.5],"tickSize":-3,"labels":false,"title":null}},
     "y":{"field":"y","type":"quantitative","scale":{"domain":[17,27],"nice":false,"zero":false},"axis":{"orient":"left","values":[17.5,18.5,19,19.5,20.5,21,21.5,22.5,23,23.5,24.5,25,25.5,26.5],"tickSize":-3,"labels":false,"title":null}}}},
   {"data":{"name":"diag"},"mark":{"type":"line","strokeDash":[1.5,3],"color":"#444","strokeWidth":1,"clip":true},
    "encoding":{"x":{"field":"x","type":"quantitative","scale":{"domain":[17,27],"nice":false,"zero":false},"axis":{"orient":"top","values":[17.5,18.5,19,19.5,20.5,21,21.5,22.5,23,23.5,24.5,25,25.5,26.5],"tickSize":-3,"labels":false,"title":null}},
     "y":{"field":"y","type":"quantitative","scale":{"domain":[17,27],"nice":false,"zero":false},"axis":{"orient":"right","values":[17.5,18.5,19,19.5,20.5,21,21.5,22.5,23,23.5,24.5,25,25.5,26.5],"tickSize":-3,"labels":false,"title":null}}}},
   {"data":{"values":[{"label":"F606W"}]},"mark":{"type":"text","align":"right","baseline":"alphabetic","font":"DejaVu Serif","fontWeight":"bold","fontSize":12.5,"color":"black"},
    "encoding":{"x":{"datum":26.2,"type":"quantitative","scale":{"domain":[17,27],"nice":false,"zero":false},"axis":null},"y":{"datum":18.1,"type":"quantitative","scale":{"domain":[17,27],"nice":false,"zero":false},"axis":null},"text":{"field":"label"}}}
  ],
  "resolve":{"axis":{"x":"independent","y":"independent"}}},
 {"width":150,"height":155,"transform":[{"filter":"datum.p === 'F814W'"}],
  "layer":[
   {"transform":[{"filter":"datum.ex > 0"}],"mark":{"type":"errorbar","ticks":true,"size":4,"thickness":1,"color":"#333","clip":true},
    "encoding":{"x":{"field":"x","type":"quantitative","scale":{"domain":[17,27],"nice":false,"zero":false},"axis":{"orient":"bottom","values":[18,20,22,24,26],"tickSize":-6,"title":null}},"xError":{"field":"ex"},
     "y":{"field":"y","type":"quantitative","scale":{"domain":[17,27],"nice":false,"zero":false},"axis":{"orient":"left","values":[18,20,22,24,26],"tickSize":-6,"title":null}}}},
   {"transform":[{"filter":"datum.ey > 0"}],"mark":{"type":"errorbar","ticks":true,"size":4,"thickness":1,"color":"#333","clip":true},
    "encoding":{"x":{"field":"x","type":"quantitative","scale":{"domain":[17,27],"nice":false,"zero":false},"axis":{"orient":"top","values":[18,20,22,24,26],"tickSize":-6,"labels":false,"title":null}},
     "y":{"field":"y","type":"quantitative","scale":{"domain":[17,27],"nice":false,"zero":false},"axis":{"orient":"right","values":[18,20,22,24,26],"tickSize":-6,"labels":false,"title":null}},"yError":{"field":"ey"}}},
   {"mark":{"type":"circle","size":36,"color":"black","opacity":1},
    "encoding":{"x":{"field":"x","type":"quantitative","scale":{"domain":[17,27],"nice":false,"zero":false},"axis":{"orient":"bottom","values":[17.5,18.5,19,19.5,20.5,21,21.5,22.5,23,23.5,24.5,25,25.5,26.5],"tickSize":-3,"labels":false,"title":null}},
     "y":{"field":"y","type":"quantitative","scale":{"domain":[17,27],"nice":false,"zero":false},"axis":{"orient":"left","values":[17.5,18.5,19,19.5,20.5,21,21.5,22.5,23,23.5,24.5,25,25.5,26.5],"tickSize":-3,"labels":false,"title":null}}}},
   {"data":{"name":"diag"},"mark":{"type":"line","strokeDash":[1.5,3],"color":"#444","strokeWidth":1,"clip":true},
    "encoding":{"x":{"field":"x","type":"quantitative","scale":{"domain":[17,27],"nice":false,"zero":false},"axis":{"orient":"top","values":[17.5,18.5,19,19.5,20.5,21,21.5,22.5,23,23.5,24.5,25,25.5,26.5],"tickSize":-3,"labels":false,"title":null}},
     "y":{"field":"y","type":"quantitative","scale":{"domain":[17,27],"nice":false,"zero":false},"axis":{"orient":"right","values":[17.5,18.5,19,19.5,20.5,21,21.5,22.5,23,23.5,24.5,25,25.5,26.5],"tickSize":-3,"labels":false,"title":null}}}},
   {"data":{"values":[{"label":"F814W"}]},"mark":{"type":"text","align":"right","baseline":"alphabetic","font":"DejaVu Serif","fontWeight":"bold","fontSize":12.5,"color":"black"},
    "encoding":{"x":{"datum":26.2,"type":"quantitative","scale":{"domain":[17,27],"nice":false,"zero":false},"axis":null},"y":{"datum":18.1,"type":"quantitative","scale":{"domain":[17,27],"nice":false,"zero":false},"axis":null},"text":{"field":"label"}}}
  ],
  "resolve":{"axis":{"x":"independent","y":"independent"}}},
 {"width":150,"height":155,"transform":[{"filter":"datum.p === 'F110W'"}],
  "layer":[
   {"transform":[{"filter":"datum.ex > 0"}],"mark":{"type":"errorbar","ticks":true,"size":4,"thickness":1,"color":"#333","clip":true},
    "encoding":{"x":{"field":"x","type":"quantitative","scale":{"domain":[17,27],"nice":false,"zero":false},"axis":{"orient":"bottom","values":[18,20,22,24,26],"tickSize":-6,"title":null}},"xError":{"field":"ex"},
     "y":{"field":"y","type":"quantitative","scale":{"domain":[17,27],"nice":false,"zero":false},"axis":{"orient":"left","values":[18,20,22,24,26],"tickSize":-6,"title":null}}}},
   {"transform":[{"filter":"datum.ey > 0"}],"mark":{"type":"errorbar","ticks":true,"size":4,"thickness":1,"color":"#333","clip":true},
    "encoding":{"x":{"field":"x","type":"quantitative","scale":{"domain":[17,27],"nice":false,"zero":false},"axis":{"orient":"top","values":[18,20,22,24,26],"tickSize":-6,"labels":false,"title":null}},
     "y":{"field":"y","type":"quantitative","scale":{"domain":[17,27],"nice":false,"zero":false},"axis":{"orient":"right","values":[18,20,22,24,26],"tickSize":-6,"labels":false,"title":null}},"yError":{"field":"ey"}}},
   {"mark":{"type":"circle","size":36,"color":"black","opacity":1},
    "encoding":{"x":{"field":"x","type":"quantitative","scale":{"domain":[17,27],"nice":false,"zero":false},"axis":{"orient":"bottom","values":[17.5,18.5,19,19.5,20.5,21,21.5,22.5,23,23.5,24.5,25,25.5,26.5],"tickSize":-3,"labels":false,"title":null}},
     "y":{"field":"y","type":"quantitative","scale":{"domain":[17,27],"nice":false,"zero":false},"axis":{"orient":"left","values":[17.5,18.5,19,19.5,20.5,21,21.5,22.5,23,23.5,24.5,25,25.5,26.5],"tickSize":-3,"labels":false,"title":null}}}},
   {"data":{"name":"diag"},"mark":{"type":"line","strokeDash":[1.5,3],"color":"#444","strokeWidth":1,"clip":true},
    "encoding":{"x":{"field":"x","type":"quantitative","scale":{"domain":[17,27],"nice":false,"zero":false},"axis":{"orient":"top","values":[17.5,18.5,19,19.5,20.5,21,21.5,22.5,23,23.5,24.5,25,25.5,26.5],"tickSize":-3,"labels":false,"title":null}},
     "y":{"field":"y","type":"quantitative","scale":{"domain":[17,27],"nice":false,"zero":false},"axis":{"orient":"right","values":[17.5,18.5,19,19.5,20.5,21,21.5,22.5,23,23.5,24.5,25,25.5,26.5],"tickSize":-3,"labels":false,"title":null}}}},
   {"data":{"values":[{"label":"F110W"}]},"mark":{"type":"text","align":"right","baseline":"alphabetic","font":"DejaVu Serif","fontWeight":"bold","fontSize":12.5,"color":"black"},
    "encoding":{"x":{"datum":26.2,"type":"quantitative","scale":{"domain":[17,27],"nice":false,"zero":false},"axis":null},"y":{"datum":18.1,"type":"quantitative","scale":{"domain":[17,27],"nice":false,"zero":false},"axis":null},"text":{"field":"label"}}}
  ],
  "resolve":{"axis":{"x":"independent","y":"independent"}}},
 {"width":150,"height":155,"transform":[{"filter":"datum.p === 'F160W'"}],
  "layer":[
   {"transform":[{"filter":"datum.ex > 0"}],"mark":{"type":"errorbar","ticks":true,"size":4,"thickness":1,"color":"#333","clip":true},
    "encoding":{"x":{"field":"x","type":"quantitative","scale":{"domain":[17,27],"nice":false,"zero":false},"axis":{"orient":"bottom","values":[18,20,22,24,26],"tickSize":-6,"title":null}},"xError":{"field":"ex"},
     "y":{"field":"y","type":"quantitative","scale":{"domain":[17,27],"nice":false,"zero":false},"axis":{"orient":"left","values":[18,20,22,24,26],"tickSize":-6,"title":null}}}},
   {"transform":[{"filter":"datum.ey > 0"}],"mark":{"type":"errorbar","ticks":true,"size":4,"thickness":1,"color":"#333","clip":true},
    "encoding":{"x":{"field":"x","type":"quantitative","scale":{"domain":[17,27],"nice":false,"zero":false},"axis":{"orient":"top","values":[18,20,22,24,26],"tickSize":-6,"labels":false,"title":null}},
     "y":{"field":"y","type":"quantitative","scale":{"domain":[17,27],"nice":false,"zero":false},"axis":{"orient":"right","values":[18,20,22,24,26],"tickSize":-6,"labels":false,"title":null}},"yError":{"field":"ey"}}},
   {"mark":{"type":"circle","size":36,"color":"black","opacity":1},
    "encoding":{"x":{"field":"x","type":"quantitative","scale":{"domain":[17,27],"nice":false,"zero":false},"axis":{"orient":"bottom","values":[17.5,18.5,19,19.5,20.5,21,21.5,22.5,23,23.5,24.5,25,25.5,26.5],"tickSize":-3,"labels":false,"title":null}},
     "y":{"field":"y","type":"quantitative","scale":{"domain":[17,27],"nice":false,"zero":false},"axis":{"orient":"left","values":[17.5,18.5,19,19.5,20.5,21,21.5,22.5,23,23.5,24.5,25,25.5,26.5],"tickSize":-3,"labels":false,"title":null}}}},
   {"data":{"name":"diag"},"mark":{"type":"line","strokeDash":[1.5,3],"color":"#444","strokeWidth":1,"clip":true},
    "encoding":{"x":{"field":"x","type":"quantitative","scale":{"domain":[17,27],"nice":false,"zero":false},"axis":{"orient":"top","values":[17.5,18.5,19,19.5,20.5,21,21.5,22.5,23,23.5,24.5,25,25.5,26.5],"tickSize":-3,"labels":false,"title":null}},
     "y":{"field":"y","type":"quantitative","scale":{"domain":[17,27],"nice":false,"zero":false},"axis":{"orient":"right","values":[17.5,18.5,19,19.5,20.5,21,21.5,22.5,23,23.5,24.5,25,25.5,26.5],"tickSize":-3,"labels":false,"title":null}}}},
   {"data":{"values":[{"label":"F160W"}]},"mark":{"type":"text","align":"right","baseline":"alphabetic","font":"DejaVu Serif","fontWeight":"bold","fontSize":12.5,"color":"black"},
    "encoding":{"x":{"datum":26.2,"type":"quantitative","scale":{"domain":[17,27],"nice":false,"zero":false},"axis":null},"y":{"datum":18.1,"type":"quantitative","scale":{"domain":[17,27],"nice":false,"zero":false},"axis":null},"text":{"field":"label"}}}
  ],
  "resolve":{"axis":{"x":"independent","y":"independent"}}},
 {"width":150,"height":155,"transform":[{"filter":"datum.p === 'dF547M'"}],
  "layer":[
   {"transform":[{"filter":"datum.ey > 0"}],"mark":{"type":"errorbar","ticks":true,"size":4,"thickness":1,"color":"#333","clip":true},
    "encoding":{"x":{"field":"x","type":"quantitative","scale":{"domain":[0,6],"nice":false,"zero":false},"axis":{"orient":"top","values":[0,2,4,6],"tickSize":-6,"labels":false,"title":null}},
     "y":{"field":"y","type":"quantitative","scale":{"domain":[-4,4],"nice":false,"zero":false},"axis":{"orient":"right","values":[-4,-2,0,2,4],"tickSize":-6,"labels":false,"title":null}},"yError":{"field":"ey"}}},
   {"mark":{"type":"circle","size":36,"color":"black","opacity":1},
    "encoding":{"x":{"field":"x","type":"quantitative","scale":{"domain":[0,6],"nice":false,"zero":false},"axis":{"orient":"bottom","values":[0,2,4,6],"tickSize":-6,"title":null}},
     "y":{"field":"y","type":"quantitative","scale":{"domain":[-4,4],"nice":false,"zero":false},"axis":{"orient":"left","values":[-4,-2,0,2,4],"tickSize":-6,"title":"(fixed − variable ap.)","titleFontSize":12.5,"titlePadding":11}}}},
   {"data":{"name":"zl"},"mark":{"type":"line","strokeDash":[8,5],"color":"#555","strokeWidth":1.2,"clip":true},
    "encoding":{"x":{"field":"x","type":"quantitative","scale":{"domain":[0,6],"nice":false,"zero":false},"axis":{"orient":"top","values":[0.5,1,1.5,2.5,3,3.5,4.5,5,5.5],"tickSize":-3,"labels":false,"title":null}},
     "y":{"field":"y","type":"quantitative","scale":{"domain":[-4,4],"nice":false,"zero":false},"axis":{"orient":"right","values":[-3.5,-3,-2.5,-1.5,-1,-0.5,0.5,1,1.5,2.5,3,3.5],"tickSize":-3,"labels":false,"title":null}}}},
   {"data":{"values":[{"zero":0}]},"mark":{"type":"rule","opacity":0},
    "encoding":{"y":{"field":"zero","type":"quantitative","scale":{"domain":[-4,4],"nice":false,"zero":false},"axis":{"orient":"left","labels":false,"ticks":false,"title":"Δmag","titleFontSize":18,"titlePadding":49,"titleY":62}}}},
   {"data":{"values":[{"label":"F547M"}]},"mark":{"type":"text","align":"right","baseline":"alphabetic","font":"DejaVu Serif","fontWeight":"bold","fontSize":12.5,"color":"black"},
    "encoding":{"x":{"datum":5.52,"type":"quantitative","scale":{"domain":[0,6],"nice":false,"zero":false},"axis":{"orient":"bottom","values":[0.5,1,1.5,2.5,3,3.5,4.5,5,5.5],"tickSize":-3,"labels":false,"title":null}},
     "y":{"datum":-3.12,"type":"quantitative","scale":{"domain":[-4,4],"nice":false,"zero":false},"axis":{"orient":"left","values":[-3.5,-3,-2.5,-1.5,-1,-0.5,0.5,1,1.5,2.5,3,3.5],"tickSize":-3,"labels":false,"title":null}},"text":{"field":"label"}}}
  ],
  "resolve":{"axis":{"x":"independent","y":"independent"}}},
 {"width":150,"height":155,"transform":[{"filter":"datum.p === 'dF814W'"}],
  "layer":[
   {"transform":[{"filter":"datum.ey > 0"}],"mark":{"type":"errorbar","ticks":true,"size":4,"thickness":1,"color":"#333","clip":true},
    "encoding":{"x":{"field":"x","type":"quantitative","scale":{"domain":[0,6],"nice":false,"zero":false},"axis":{"orient":"top","values":[0,2,4,6],"tickSize":-6,"labels":false,"title":null}},
     "y":{"field":"y","type":"quantitative","scale":{"domain":[-4,4],"nice":false,"zero":false},"axis":{"orient":"right","values":[-4,-2,0,2,4],"tickSize":-6,"labels":false,"title":null}},"yError":{"field":"ey"}}},
   {"mark":{"type":"circle","size":36,"color":"black","opacity":1},
    "encoding":{"x":{"field":"x","type":"quantitative","scale":{"domain":[0,6],"nice":false,"zero":false},"axis":{"orient":"bottom","values":[0,2,4,6],"tickSize":-6,"title":"σ(pixels)","titlePadding":20}},
     "y":{"field":"y","type":"quantitative","scale":{"domain":[-4,4],"nice":false,"zero":false},"axis":{"orient":"left","values":[-4,-2,0,2,4],"tickSize":-6,"title":null}}}},
   {"data":{"name":"zl"},"mark":{"type":"line","strokeDash":[8,5],"color":"#555","strokeWidth":1.2,"clip":true},
    "encoding":{"x":{"field":"x","type":"quantitative","scale":{"domain":[0,6],"nice":false,"zero":false},"axis":{"orient":"top","values":[0.5,1,1.5,2.5,3,3.5,4.5,5,5.5],"tickSize":-3,"labels":false,"title":null}},
     "y":{"field":"y","type":"quantitative","scale":{"domain":[-4,4],"nice":false,"zero":false},"axis":{"orient":"right","values":[-3.5,-3,-2.5,-1.5,-1,-0.5,0.5,1,1.5,2.5,3,3.5],"tickSize":-3,"labels":false,"title":null}}}},
   {"data":{"values":[{"label":"F814W"}]},"mark":{"type":"text","align":"right","baseline":"alphabetic","font":"DejaVu Serif","fontWeight":"bold","fontSize":12.5,"color":"black"},
    "encoding":{"x":{"datum":5.52,"type":"quantitative","scale":{"domain":[0,6],"nice":false,"zero":false},"axis":{"orient":"bottom","values":[0.5,1,1.5,2.5,3,3.5,4.5,5,5.5],"tickSize":-3,"labels":false,"title":null}},
     "y":{"datum":-3.12,"type":"quantitative","scale":{"domain":[-4,4],"nice":false,"zero":false},"axis":{"orient":"left","values":[-3.5,-3,-2.5,-1.5,-1,-0.5,0.5,1,1.5,2.5,3,3.5],"tickSize":-3,"labels":false,"title":null}},"text":{"field":"label"}}}
  ],
  "resolve":{"axis":{"x":"independent","y":"independent"}}},
 {"width":150,"height":155,"transform":[{"filter":"datum.p === 'dF110W'"}],
  "layer":[
   {"transform":[{"filter":"datum.ey > 0"}],"mark":{"type":"errorbar","ticks":true,"size":4,"thickness":1,"color":"#333","clip":true},
    "encoding":{"x":{"field":"x","type":"quantitative","scale":{"domain":[0,6],"nice":false,"zero":false},"axis":{"orient":"top","values":[0,2,4,6],"tickSize":-6,"labels":false,"title":null}},
     "y":{"field":"y","type":"quantitative","scale":{"domain":[-4,4],"nice":false,"zero":false},"axis":{"orient":"right","values":[-4,-2,0,2,4],"tickSize":-6,"labels":false,"title":null}},"yError":{"field":"ey"}}},
   {"mark":{"type":"circle","size":36,"color":"black","opacity":1},
    "encoding":{"x":{"field":"x","type":"quantitative","scale":{"domain":[0,6],"nice":false,"zero":false},"axis":{"orient":"bottom","values":[0,2,4,6],"tickSize":-6,"title":null}},
     "y":{"field":"y","type":"quantitative","scale":{"domain":[-4,4],"nice":false,"zero":false},"axis":{"orient":"left","values":[-4,-2,0,2,4],"tickSize":-6,"title":null}}}},
   {"data":{"name":"zl"},"mark":{"type":"line","strokeDash":[8,5],"color":"#555","strokeWidth":1.2,"clip":true},
    "encoding":{"x":{"field":"x","type":"quantitative","scale":{"domain":[0,6],"nice":false,"zero":false},"axis":{"orient":"top","values":[0.5,1,1.5,2.5,3,3.5,4.5,5,5.5],"tickSize":-3,"labels":false,"title":null}},
     "y":{"field":"y","type":"quantitative","scale":{"domain":[-4,4],"nice":false,"zero":false},"axis":{"orient":"right","values":[-3.5,-3,-2.5,-1.5,-1,-0.5,0.5,1,1.5,2.5,3,3.5],"tickSize":-3,"labels":false,"title":null}}}},
   {"data":{"values":[{"label":"F110W"}]},"mark":{"type":"text","align":"right","baseline":"alphabetic","font":"DejaVu Serif","fontWeight":"bold","fontSize":12.5,"color":"black"},
    "encoding":{"x":{"datum":5.52,"type":"quantitative","scale":{"domain":[0,6],"nice":false,"zero":false},"axis":{"orient":"bottom","values":[0.5,1,1.5,2.5,3,3.5,4.5,5,5.5],"tickSize":-3,"labels":false,"title":null}},
     "y":{"datum":-3.12,"type":"quantitative","scale":{"domain":[-4,4],"nice":false,"zero":false},"axis":{"orient":"left","values":[-3.5,-3,-2.5,-1.5,-1,-0.5,0.5,1,1.5,2.5,3,3.5],"tickSize":-3,"labels":false,"title":null}},"text":{"field":"label"}}}
  ],
  "resolve":{"axis":{"x":"independent","y":"independent"}}}
]
}
